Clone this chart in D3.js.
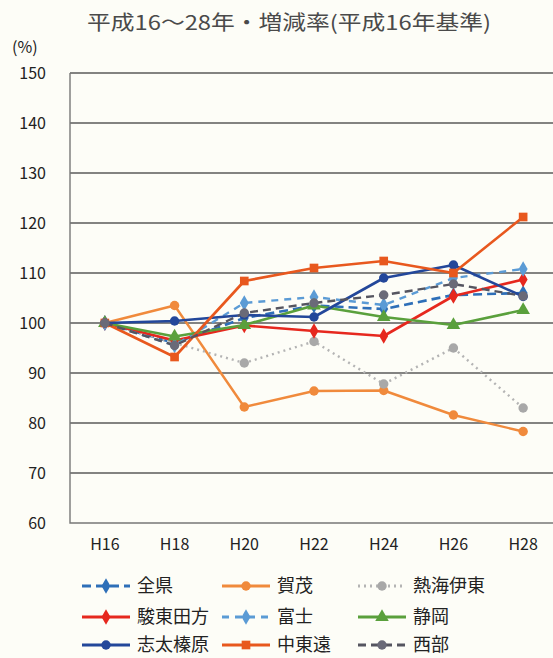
<!DOCTYPE html>
<html>
<head>
<meta charset="utf-8">
<script src="https://cdn.jsdelivr.net/npm/d3@7"></script>
<style>
  html, body { margin: 0; padding: 0; background: #fdfdf7; }
  svg { display: block; }
  text { font-family: "Noto Sans CJK JP", "Noto Sans", sans-serif; }
</style>
</head>
<body>
<svg id="chart" width="553" height="658"></svg>
<script>
// Years (Heisei era) on the x axis
const categories = ["H16", "H18", "H20", "H22", "H24", "H26", "H28"];
const yTicks = [60, 70, 80, 90, 100, 110, 120, 130, 140, 150];

// Growth index per region, H16 = 100
const zenken      = [100, 96.0, 101.0, 103.5, 102.8, 105.6, 106.0];
const kamo        = [100, 103.5, 83.2, 86.4, 86.5, 81.6, 78.3];
const atamiIto    = [100, 96.0, 92.0, 96.3, 87.8, 95.0, 83.0];
const suntoTagata = [100, 96.5, 99.5, 98.4, 97.4, 105.4, 108.7];
const fuji        = [100, 95.5, 104.0, 105.2, 103.6, 109.0, 110.8];
const shizuoka    = [100, 97.3, 99.6, 103.5, 101.2, 99.6, 102.6];
const shidaHaibara= [100, 100.4, 101.6, 101.2, 109.0, 111.6, 105.3];
const chutoen     = [100, 93.2, 108.4, 111.0, 112.4, 110.0, 121.2];
const seibu       = [100, 95.5, 102.0, 104.0, 105.6, 107.8, 105.4];

const seriesNames = ["全県", "賀茂", "熱海伊東", "駿東田方", "富士", "静岡", "志太榛原", "中東遠", "西部"];
const seriesValues = [zenken, kamo, atamiIto, suntoTagata, fuji, shizuoka, shidaHaibara, chutoen, seibu];

// Line / marker styling per series
const styles = [
  { color: "#2e6fb8", dash: "9,5",  width: 2.6, marker: "diamond", mcolor: "#2e6fb8" },
  { color: "#f08a3c", dash: null,   width: 2.4, marker: "circle",  mcolor: "#f08a3c" },
  { color: "#b4b4b4", dash: "2,4",  width: 2.4, marker: "circle",  mcolor: "#a8a8a8" },
  { color: "#e6281e", dash: null,   width: 2.6, marker: "diamond", mcolor: "#e6281e" },
  { color: "#5b9bd5", dash: "7,6",  width: 2.4, marker: "diamond", mcolor: "#5b9bd5" },
  { color: "#5aa03c", dash: null,   width: 2.6, marker: "triangle",mcolor: "#5aa03c" },
  { color: "#23479a", dash: null,   width: 2.6, marker: "circle",  mcolor: "#23479a" },
  { color: "#e8581e", dash: null,   width: 2.6, marker: "square",  mcolor: "#e8581e" },
  { color: "#555560", dash: "8,5",  width: 2.4, marker: "circle",  mcolor: "#6a6a78" }
];

const series = seriesNames.map((name, i) => ({ name, values: seriesValues[i], style: styles[i] }));

const svg = d3.select("#chart");
const plot = { left: 70, right: 558, top: 73, bottom: 523 };

const x = d3.scaleBand().domain(categories).range([plot.left, plot.right]);
const xc = c => x(c) + x.bandwidth() / 2;
const y = d3.scaleLinear().domain([60, 150]).range([plot.bottom, plot.top]);

// Title
svg.append("text")
  .attr("x", 289).attr("y", 30)
  .attr("text-anchor", "middle")
  .attr("font-size", 20)
  .attr("fill", "#4a4a4a")
  .attr("textLength", 404)
  .attr("lengthAdjust", "spacingAndGlyphs")
  .text("平成16～28年・増減率(平成16年基準)");

// Unit label
svg.append("text")
  .attr("x", 12).attr("y", 53)
  .attr("font-size", 16)
  .attr("fill", "#222")
  .text("(%)");

// Horizontal gridlines
svg.append("g")
  .selectAll("line")
  .data(yTicks.filter(t => t > 60))
  .join("line")
  .attr("x1", plot.left).attr("x2", plot.right)
  .attr("y1", d => y(d)).attr("y2", d => y(d))
  .attr("stroke", "#5a5a5a")
  .attr("stroke-width", 1.4);

// Left and bottom frame
svg.append("path")
  .attr("d", `M${plot.left},${plot.top}V${plot.bottom}H${plot.right}`)
  .attr("fill", "none")
  .attr("stroke", "#777")
  .attr("stroke-width", 1.4);

// Y axis labels
const yAxis = d3.axisLeft(y).tickValues(yTicks).tickSize(0).tickPadding(0);
const gy = svg.append("g").attr("transform", "translate(46,0)").call(yAxis);
gy.select(".domain").remove();
gy.selectAll("text")
  .attr("font-size", 16)
  .attr("fill", "#222")
  .attr("font-family", "'Liberation Sans', sans-serif");

// X axis labels
const xAxis = d3.axisBottom(x).tickSize(0).tickPadding(0);
const gx = svg.append("g").attr("transform", "translate(0,539)").call(xAxis);
gx.select(".domain").remove();
gx.selectAll("text")
  .attr("font-size", 16)
  .attr("fill", "#222")
  .attr("font-family", "'Liberation Sans', sans-serif");

// Marker shapes
const symbolFor = m => ({
  diamond: d3.symbolDiamond,
  circle: d3.symbolCircle,
  triangle: d3.symbolTriangle,
  square: d3.symbolSquare
}[m]);
const sizeFor = m => ({ diamond: 70, circle: 70, triangle: 80, square: 75 }[m]);

const line = d3.line()
  .x((d, i) => xc(categories[i]))
  .y(d => y(d));

// Series lines and markers
const gs = svg.append("g")
  .selectAll("g")
  .data(series)
  .join("g");

gs.append("path")
  .attr("d", d => line(d.values))
  .attr("fill", "none")
  .attr("stroke", d => d.style.color)
  .attr("stroke-width", d => d.style.width)
  .attr("stroke-dasharray", d => d.style.dash)
  .attr("stroke-linejoin", "round");

gs.selectAll("path.mk")
  .data(d => d.values.map((v, i) => ({ v, i, s: d.style })))
  .join("path")
  .attr("class", "mk")
  .attr("transform", d => `translate(${xc(categories[d.i])},${y(d.v)})`)
  .attr("d", d => d3.symbol(symbolFor(d.s.marker), sizeFor(d.s.marker))())
  .attr("fill", d => d.s.mcolor);

// Legend: 3 columns x 3 rows
const legCols = [82, 222, 358];
const legRows = [586, 617, 645];
const leg = svg.append("g")
  .selectAll("g")
  .data(series)
  .join("g")
  .attr("transform", (d, i) => `translate(${legCols[i % 3]},${legRows[Math.floor(i / 3)]})`);

leg.append("line")
  .attr("x1", 0).attr("x2", 48)
  .attr("y1", 0).attr("y2", 0)
  .attr("stroke", d => d.style.color)
  .attr("stroke-width", 3)
  .attr("stroke-dasharray", d => d.style.dash);

leg.append("path")
  .attr("transform", "translate(24,0)")
  .attr("d", d => d3.symbol(symbolFor(d.style.marker), sizeFor(d.style.marker))())
  .attr("fill", d => d.style.mcolor);

leg.append("text")
  .attr("x", 55).attr("y", 6)
  .attr("font-size", 18)
  .attr("fill", "#222")
  .text(d => d.name);
</script>
</body>
</html>
